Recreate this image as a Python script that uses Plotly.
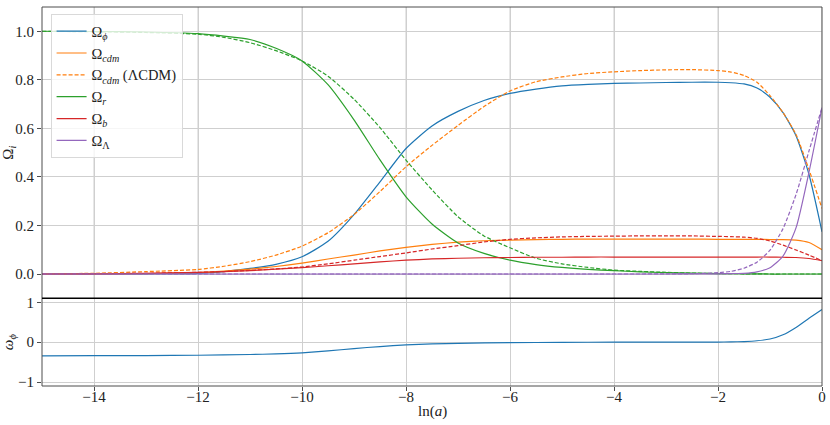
import plotly.graph_objects as go

# ---------------- data ----------------
lna = [-15, -14, -13, -12, -11.5, -11, -10.5, -10, -9.5, -9, -8.5, -8, -7.5, -7,
       -6.5, -6, -5.5, -5, -4.5, -4, -3.5, -3, -2.5, -2, -1.75, -1.5, -1.25, -1,
       -0.75, -0.5, -0.25, 0]

omega_phi = [0.0, 0.0005, 0.001, 0.003, 0.01, 0.023, 0.04, 0.071, 0.135, 0.245, 0.38,
             0.517, 0.61, 0.67, 0.715, 0.744, 0.762, 0.775, 0.781, 0.785, 0.787, 0.789,
             0.79, 0.79, 0.788, 0.783, 0.766, 0.728, 0.665, 0.57, 0.41, 0.174]

omega_cdm = [0.0, 0.001, 0.002, 0.006, 0.012, 0.02, 0.031, 0.045, 0.062, 0.078, 0.095,
             0.11, 0.122, 0.131, 0.137, 0.14, 0.142, 0.143, 0.144, 0.144, 0.144, 0.144,
             0.144, 0.143, 0.143, 0.143, 0.143, 0.142, 0.142, 0.14, 0.13, 0.10]

omega_cdm_lcdm = [0.001, 0.003, 0.01, 0.019, 0.032, 0.051, 0.078, 0.115, 0.17, 0.245,
                  0.34, 0.442, 0.53, 0.612, 0.69, 0.754, 0.792, 0.812, 0.826, 0.833,
                  0.838, 0.841, 0.842, 0.838, 0.832, 0.818, 0.79, 0.735, 0.665, 0.575,
                  0.43, 0.27]

omega_r = [1.0, 0.999, 0.997, 0.99, 0.98, 0.966, 0.93, 0.878, 0.78, 0.635, 0.47, 0.318,
           0.206, 0.128, 0.085, 0.057, 0.039, 0.027, 0.019, 0.014, 0.009, 0.006, 0.004,
           0.002, 0.002, 0.001, 0.001, 0.0, 0.0, 0.0, 0.0, 0.0]

omega_r_lcdm = [1.0, 0.998, 0.995, 0.988, 0.975, 0.953, 0.92, 0.878, 0.815, 0.72, 0.603,
                0.469, 0.347, 0.236, 0.157, 0.108, 0.065, 0.042, 0.027, 0.016, 0.011,
                0.007, 0.004, 0.002, 0.002, 0.001, 0.001, 0.0, 0.0, 0.0, 0.0, 0.0]

omega_b = [0.0, 0.001, 0.003, 0.007, 0.01, 0.014, 0.02, 0.026, 0.034, 0.042, 0.05, 0.057,
           0.062, 0.065, 0.067, 0.068, 0.069, 0.069, 0.07, 0.07, 0.07, 0.07, 0.07, 0.07,
           0.07, 0.07, 0.07, 0.07, 0.069, 0.068, 0.064, 0.055]

omega_b_lcdm = [0.0, 0.001, 0.003, 0.007, 0.01, 0.015, 0.021, 0.029, 0.042, 0.057, 0.072,
                0.087, 0.103, 0.117, 0.132, 0.143, 0.149, 0.153, 0.155, 0.156, 0.157,
                0.157, 0.157, 0.155, 0.154, 0.152, 0.147, 0.136, 0.119, 0.099, 0.078,
                0.055]

omega_L = [0.0, 0.0, 0.0, 0.0, 0.0, 0.0, 0.0, 0.0, 0.0, 0.0, 0.0, 0.0, 0.0, 0.0, 0.0,
           0.0, 0.0, 0.0, 0.0, 0.0, 0.0, 0.0, 0.0005, 0.001, 0.002, 0.003, 0.009, 0.026,
           0.074, 0.19, 0.42, 0.686]

omega_L_lcdm = [0.0, 0.0, 0.0, 0.0, 0.0, 0.0, 0.0, 0.0, 0.0, 0.0, 0.0, 0.0, 0.0, 0.0,
                0.0, 0.0, 0.0, 0.0, 0.0, 0.0, 0.0002, 0.0005, 0.0012, 0.0054, 0.011,
                0.024, 0.049, 0.098, 0.187, 0.327, 0.507, 0.686]

lna_w = [-15, -14, -13, -12, -11, -10.5, -10, -9.5, -9, -8.5, -8, -7.5, -7, -6, -5, -4,
         -3, -2, -1.75, -1.5, -1.25, -1, -0.75, -0.5, -0.25, 0]
w_phi = [-0.342, -0.34, -0.336, -0.328, -0.31, -0.295, -0.268, -0.22, -0.16, -0.11,
         -0.068, -0.045, -0.03, -0.013, -0.005, -0.001, 0.0, 0.002, 0.006, 0.015, 0.035,
         0.078, 0.185, 0.37, 0.6, 0.82]

x_ticks = [-14, -12, -10, -8, -6, -4, -2, 0]
top_ticks = [0.0, 0.2, 0.4, 0.6, 0.8, 1.0]
bottom_ticks = [-1, 0, 1]

# ---------------- styling ----------------
C_BLUE, C_ORANGE, C_GREEN, C_RED, C_PURPLE = "#1f77b4", "#ff7f0e", "#2ca02c", "#d62728", "#9467bd"
FONT = "Liberation Serif, DejaVu Serif, serif"
DASH = "4px,2px"
LW = 1.2

fig = go.Figure()

def add(y, name, color, dash="solid", legend=True, x=lna, yaxis="y"):
    fig.add_trace(go.Scatter(
        x=x, y=y, name=name, mode="lines", showlegend=legend, yaxis=yaxis, xaxis="x",
        cliponaxis=True, hoverinfo="skip",
        line=dict(color=color, width=LW, dash=dash, shape="spline", smoothing=0.6)))

add(omega_phi, "Ω<sub><i>ϕ</i></sub>", C_BLUE)
add(omega_cdm, "Ω<sub><i>cdm</i></sub>", C_ORANGE)
add(omega_cdm_lcdm, "Ω<sub><i>cdm</i></sub> (ΛCDM)", C_ORANGE, DASH)
add(omega_r, "Ω<sub><i>r</i></sub>", C_GREEN)
add(omega_r_lcdm, "Ω<sub><i>r</i></sub> (ΛCDM)", C_GREEN, DASH, legend=False)
add(omega_b, "Ω<sub><i>b</i></sub>", C_RED)
add(omega_b_lcdm, "Ω<sub><i>b</i></sub> (ΛCDM)", C_RED, DASH, legend=False)
add(omega_L, "Ω<sub>Λ</sub>", C_PURPLE)
add(omega_L_lcdm, "Ω<sub>Λ</sub> (ΛCDM)", C_PURPLE, DASH, legend=False)
add(w_phi, "ω<sub>ϕ</sub>", C_BLUE, x=lna_w, yaxis="y2", legend=False)

split = 0.2314
grid = "#cfcfcf"
spine = "#4d4d4d"
tickfont = dict(family=FONT, size=15, color="#222")
axis_common = dict(showgrid=True, gridcolor=grid, gridwidth=1, zeroline=False,
                   showline=False, ticks="outside", ticklen=4, tickcolor=spine,
                   automargin=False, tickfont=tickfont)

fig.update_layout(
    width=830, height=425,
    margin=dict(l=42, r=8, t=7, b=39, autoexpand=False),
    paper_bgcolor="white", plot_bgcolor="white",
    font=dict(family=FONT, size=15, color="#222"),
    showlegend=True,
    legend=dict(x=0.011, y=0.981, xanchor="left", yanchor="top",
                bgcolor="rgba(255,255,255,0.8)", bordercolor="#d9d9d9", borderwidth=1,
                font=dict(family=FONT, size=14.5, color="#222"),
                tracegroupgap=0, itemwidth=30),
    xaxis=dict(range=[-15, 0], domain=[0, 1], anchor="y2", tickvals=x_ticks,
               ticklabeloverflow="allow", ticklabelstandoff=-7, **axis_common),
    yaxis=dict(range=[-0.1, 1.1], domain=[split, 1], anchor="x", tickvals=top_ticks,
               tickformat=".1f",
               title=dict(text="Ω<sub><i>i</i></sub>", standoff=6, font=dict(family=FONT, size=15)),
               **axis_common),
    yaxis2=dict(range=[-1.1, 1.1], domain=[0, split], anchor="x", tickvals=bottom_ticks,
                title=dict(text="<i>ω</i><sub><i>ϕ</i></sub>", standoff=14, font=dict(family=FONT, size=15)),
                **axis_common),
)

# x-axis title
fig.add_annotation(text="ln(<i>a</i>)", xref="paper", yref="paper", x=0.5, y=-0.066,
                   xanchor="center", yanchor="middle", showarrow=False,
                   font=dict(family=FONT, size=15, color="#222"))

# vertical grid lines of the upper panel (the shared x axis lives in the lower panel)
for xv in x_ticks:
    fig.add_shape(type="line", xref="x", yref="paper", x0=xv, x1=xv, y0=split, y1=1,
                  line=dict(color=grid, width=1), layer="below")

# frame around both panels and the heavy separator between them
fig.add_shape(type="rect", xref="paper", yref="paper", x0=0, x1=1, y0=0, y1=1,
              line=dict(color=spine, width=1), layer="above")
fig.add_shape(type="line", xref="paper", yref="paper", x0=0, x1=1, y0=split, y1=split,
              line=dict(color="black", width=1.6), layer="above")

fig.write_html("out.html", config={"displayModeBar": False},
               post_script="document.body.style.margin='0';document.body.style.padding='0';")
